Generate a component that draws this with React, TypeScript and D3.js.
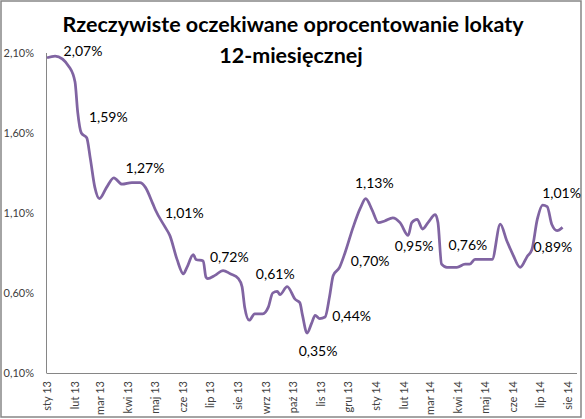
import * as d3 from 'd3';

// weekly-ish readings of the real expected 12M deposit rate (%)
const dates = [
  '2013-01-01', '2013-01-10', '2013-01-26', '2013-02-01', '2013-02-04', '2013-02-08', '2013-02-14',
  '2013-02-18', '2013-02-23', '2013-02-28', '2013-03-08', '2013-03-16', '2013-03-25', '2013-04-05',
  '2013-04-14', '2013-04-20', '2013-04-28', '2013-05-01', '2013-05-12', '2013-05-17', '2013-05-25',
  '2013-06-01', '2013-06-05', '2013-06-12', '2013-06-15', '2013-06-23', '2013-06-26', '2013-06-28',
  '2013-07-06', '2013-07-15', '2013-07-23', '2013-08-01', '2013-08-05', '2013-08-08', '2013-08-13',
  '2013-08-19', '2013-08-28', '2013-09-03', '2013-09-08', '2013-09-13', '2013-09-16', '2013-09-24',
  '2013-10-03', '2013-10-08', '2013-10-11', '2013-10-16', '2013-10-21', '2013-10-25', '2013-10-30',
  '2013-11-05', '2013-11-10', '2013-11-14', '2013-11-21', '2013-11-27', '2013-12-06', '2013-12-14',
  '2013-12-20', '2013-12-27', '2014-01-03', '2014-01-10', '2014-01-19', '2014-01-27', '2014-02-05',
  '2014-02-09', '2014-02-15', '2014-02-21', '2014-02-27', '2014-03-07', '2014-03-10', '2014-03-14',
  '2014-03-20', '2014-03-31', '2014-04-09', '2014-04-14', '2014-04-20', '2014-04-29', '2014-05-09',
  '2014-05-18', '2014-05-25', '2014-06-01', '2014-06-09', '2014-06-17', '2014-06-22', '2014-06-28',
  '2014-07-04', '2014-07-09', '2014-07-14', '2014-07-20', '2014-07-26',
];
const values = [
  2.07, 2.08, 2.01, 1.92, 1.73, 1.6, 1.57,
  1.44, 1.26, 1.19, 1.26, 1.32, 1.28, 1.29,
  1.29, 1.26, 1.16, 1.12, 1.01, 0.96, 0.81,
  0.72, 0.76, 0.84, 0.81, 0.8, 0.7, 0.69,
  0.71, 0.74, 0.72, 0.69, 0.64, 0.51, 0.43,
  0.47, 0.47, 0.51, 0.6, 0.61, 0.59, 0.64,
  0.56, 0.54, 0.46, 0.35, 0.41, 0.46, 0.44,
  0.45, 0.58, 0.71, 0.76, 0.85, 1.01, 1.13,
  1.19, 1.12, 1.04, 1.05, 1.07, 1.04, 0.96,
  1.04, 1.06, 1.0, 1.04, 1.09, 1.04, 0.78,
  0.76, 0.76, 0.78, 0.78, 0.81, 0.81, 0.81,
  1.03, 0.93, 0.84, 0.76, 0.83, 0.87, 1.06,
  1.15, 1.14, 1.03, 0.99, 1.01,
];

// data labels shown on the chart
const labelDates = [
  '2013-01-01', '2013-02-08', '2013-04-14', '2013-05-12', '2013-07-23', '2013-09-13', '2013-10-16',
  '2013-10-30', '2013-11-14', '2013-12-14', '2014-02-05', '2014-03-31', '2014-06-22', '2014-07-26',
];
const labelValues = [2.07, 1.59, 1.27, 1.01, 0.72, 0.61, 0.35, 0.44, 0.7, 1.13, 0.95, 0.76, 0.89, 1.01];
// where each label sits relative to its point (px)
const labelOffsets: [number, number][] = [
  [36, -7], [27, -18], [5, -18], [19, -14], [-1, -17], [-2, -17], [11, 18],
  [32, -3], [37, -16], [14, -25], [6, 9], [11, -22], [21, 0], [-1, -34],
];

const monthLabels = [
  'sty 13', 'lut 13', 'mar 13', 'kwi 13', 'maj 13', 'cze 13', 'lip 13', 'sie 13', 'wrz 13', 'paź 13',
  'lis 13', 'gru 13', 'sty 14', 'lut 14', 'mar 14', 'kwi 14', 'maj 14', 'cze 14', 'lip 14', 'sie 14',
];
const yTicks = [0.1, 0.6, 1.1, 1.6, 2.1];

const W = 585;
const H = 419;
const FONT = 'Lato, "Open Sans", sans-serif';

export default function App() {
  const parse = d3.timeParse('%Y-%m-%d');
  const points = dates.map((d, i) => ({ date: parse(d) as Date, value: values[i] }));

  const margin = { left: 47, right: 8, top: 53, bottom: 46 };
  const x = d3.scaleTime()
    .domain([new Date(2013, 0, 1), new Date(2014, 7, 11)])
    .range([margin.left, W - margin.right]);
  const y = d3.scaleLinear()
    .domain([0.1, 2.1])
    .range([H - margin.bottom, margin.top]);

  const line = d3.line<{ date: Date; value: number }>()
    .x(d => x(d.date))
    .y(d => y(d.value))
    .curve(d3.curveMonotoneX);

  const monthTicks = d3.timeMonth.range(new Date(2013, 0, 1), new Date(2014, 8, 1));
  const fmt = (v: number) => v.toFixed(2).replace('.', ',') + '%';
  const axisColor = '#868686';

  return (
    <svg width={W} height={H} style={{ position: 'absolute', left: 0, top: 0, background: '#fff' }}>
      <rect x={1} y={1} width={580} height={416} fill="#fff" stroke={axisColor} strokeWidth={1.5} />

      <text x={293} y={32} textAnchor="middle" fontFamily={FONT} fontWeight="bold" fontSize={21.5} fill="#000">
        Rzeczywiste oczekiwane oprocentowanie lokaty
      </text>
      <text x={291} y={63} textAnchor="middle" fontFamily={FONT} fontWeight="bold" fontSize={21.5} fill="#000">
        12-miesięcznej
      </text>

      {/* axes */}
      <line x1={x.range()[0] - 0.5} x2={x.range()[0] - 0.5} y1={y(2.1)} y2={y(0.1)} stroke={axisColor} />
      <line x1={x.range()[0] - 0.5} x2={x.range()[1]} y1={y(0.1) + 0.5} y2={y(0.1) + 0.5} stroke={axisColor} />

      {yTicks.map(t => (
        <text key={t} x={34} y={y(t)} dy="0.35em" textAnchor="end" fontFamily={FONT} fontSize={11} fill="#404040">
          {fmt(t)}
        </text>
      ))}

      {monthTicks.map((m, i) => (
        <text
          key={i}
          transform={`translate(${x(m)},${y(0.1) + 8}) rotate(-90)`}
          dy="0.35em"
          textAnchor="end"
          fontFamily={FONT}
          fontSize={11}
          fill="#404040"
        >
          {monthLabels[i]}
        </text>
      ))}

      <path d={line(points) ?? ''} fill="none" stroke="#8064A2" strokeWidth={2.75} strokeLinejoin="round" />

      {labelValues.map((v, i) => {
        const d = parse(labelDates[i]) as Date;
        const [dx, dy] = labelOffsets[i];
        return (
          <text
            key={i}
            x={x(d) + dx}
            y={y(v) + dy}
            dy="0.35em"
            textAnchor="middle"
            fontFamily={FONT}
            fontSize={14}
            fill="#000"
          >
            {fmt(v)}
          </text>
        );
      })}
    </svg>
  );
}
